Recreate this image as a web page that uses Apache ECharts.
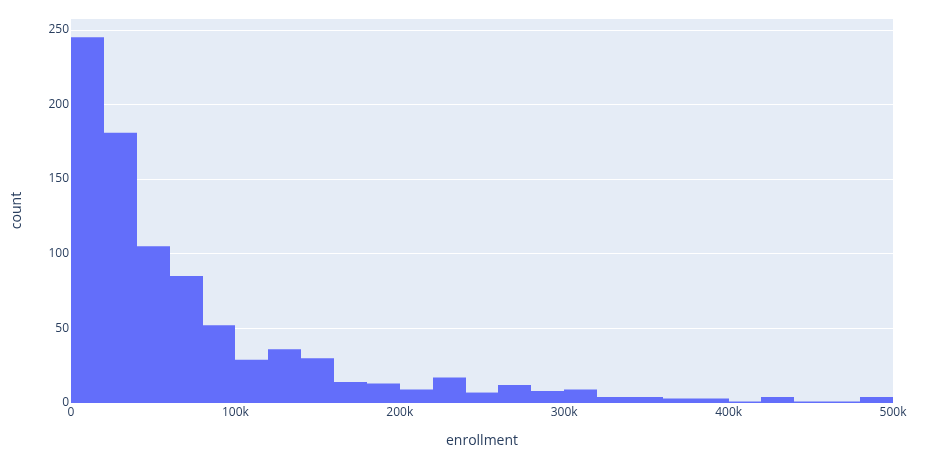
<!DOCTYPE html>
<html>
<head>
	<meta charset="utf-8">
	<title>enrollment histogram</title>
	<script src="https://cdn.jsdelivr.net/npm/echarts@6/dist/echarts.min.js"></script>
	<style>
		html, body { margin: 0; padding: 0; background: #fff; }
		#chart { width: 940px; height: 456px; }
	</style>
</head>
<body>
	<div id="chart"></div>
	<script>
		// histogram bins: 20k wide, 0 - 500k
		var binSize = 20000;
		var binStarts = [0, 20000, 40000, 60000, 80000, 100000, 120000, 140000, 160000, 180000,
			200000, 220000, 240000, 260000, 280000, 300000, 320000, 340000, 360000, 380000,
			400000, 420000, 440000, 460000, 480000];
		var counts = [245, 181, 105, 85, 52, 29, 36, 30, 14, 13,
			9, 17, 7, 12, 8, 9, 4, 4, 3, 3,
			1, 4, 1, 1, 4];
		var xTicks = [0, 100000, 200000, 300000, 400000, 500000];
		var yTicks = [0, 50, 100, 150, 200, 250];

		var data = binStarts.map(function (s, i) {
			return [s, s + binSize, counts[i]];
		});

		var chart = echarts.init(document.getElementById('chart'));
		var font = '"Open Sans", "DejaVu Sans", sans-serif';
		var option = {
			animation: false,
			grid: {
				left: 71,
				top: 18,
				width: 822,
				height: 385,
				show: true,
				backgroundColor: '#E5ECF6',
				borderWidth: 0
			},
			xAxis: {
				type: 'value',
				min: xTicks[0],
				max: xTicks[xTicks.length - 1],
				interval: 100000,
				name: 'enrollment',
				nameLocation: 'middle',
				nameGap: 31,
				nameTextStyle: { color: '#2a3f5f', fontSize: 14, fontFamily: font },
				axisLine: { show: false },
				axisTick: { show: false },
				splitLine: { show: false },
				axisLabel: {
					color: '#2a3f5f',
					fontSize: 12,
					fontFamily: font,
					margin: 4,
					formatter: function (v) {
						return v === 0 ? '0' : (v / 1000) + 'k';
					}
				}
			},
			yAxis: {
				type: 'value',
				min: yTicks[0],
				max: 257.9,
				interval: 50,
				name: 'count',
				nameLocation: 'middle',
				nameGap: 47,
				nameTextStyle: { color: '#2a3f5f', fontSize: 14, fontFamily: font },
				axisLine: { show: false },
				axisTick: { show: false },
				splitLine: { lineStyle: { color: '#ffffff', width: 1 } },
				axisLabel: {
					color: '#2a3f5f',
					fontSize: 12,
					fontFamily: font,
					margin: 2,
					showMaxLabel: false
				}
			},
			series: [{
				type: 'custom',
				data: data,
				encode: { x: [0, 1], y: 2 },
				renderItem: function (params, api) {
					var p0 = api.coord([api.value(0), api.value(2)]);
					var p1 = api.coord([api.value(1), 0]);
					// snap vertical edges to whole pixels so neighbouring bars meet without seams
					var x0 = Math.round(p0[0]);
					var x1 = Math.round(p1[0]);
					return {
						type: 'rect',
						shape: { x: x0, y: p0[1], width: x1 - x0, height: p1[1] - p0[1] },
						style: { fill: '#636EFA' }
					};
				}
			}]
		};
		chart.setOption(option);
	</script>
</body>
</html>
